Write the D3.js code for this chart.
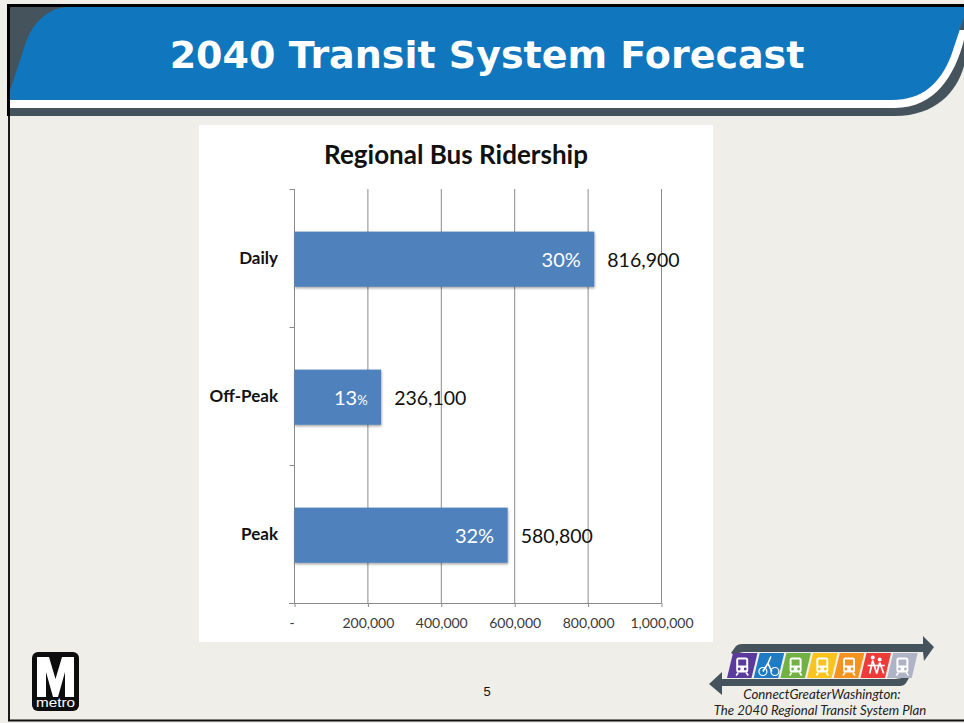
<!DOCTYPE html>
<html>
<head>
<meta charset="utf-8">
<title>2040 Transit System Forecast</title>
<script src="https://cdn.jsdelivr.net/npm/d3@7/dist/d3.min.js"></script>
<style>
    html, body { margin: 0; padding: 0; background: #efeee9; }
    svg { display: block; }
    .axis text { font-family: Lato, "Open Sans", sans-serif; }
</style>
</head>
<body>
<svg id="slide" width="964" height="723"></svg>
<script>
// Chart data
const categories = ['Daily', 'Off-Peak', 'Peak'];
const ridership = [816900, 236100, 580800];
const shares = ['30', '13', '32'];
const xTicks = [0, 200000, 400000, 600000, 800000, 1000000];
const tileColors = ['#5a3a9c', '#1f7cc4', '#72b244', '#fac41c', '#f6931f', '#ec3b38', '#aeb4c6'];

const svg = d3.select('#slide');
const bodyFont = 'Lato, "Open Sans", sans-serif';

// Slide background and header band
svg.append('rect').attr('width', 964).attr('height', 723).attr('fill', '#efeee9');
svg.append('path')
    .attr('d', 'M10,7H964V66C957,92 935,116 895,116H10Z')
    .attr('fill', '#45545c');
svg.append('path')
    .attr('d', 'M10,100H890L950,30H964V40C955,75 935,108 895,108H10Z')
    .attr('fill', '#ffffff');
svg.append('path')
    .attr('d', 'M10,91L25,45C32,22 50,7 68,7H964V17L951,56C940,84 922,100 892,100H10Z')
    .attr('fill', '#1077bf');
svg.append('text')
    .attr('x', 487).attr('y', 68)
    .attr('text-anchor', 'middle')
    .attr('font-family', '"DejaVu Sans", sans-serif')
    .attr('font-weight', 'bold')
    .attr('font-size', 38)
    .attr('fill', '#ffffff')
    .text('2040 Transit System Forecast');

// Slide frame
svg.append('rect').attr('x', 7).attr('y', 4).attr('width', 957).attr('height', 3).attr('fill', '#000');
svg.append('rect').attr('x', 7).attr('y', 4).attr('width', 3).attr('height', 112).attr('fill', '#000');
svg.append('rect').attr('x', 8).attr('y', 116).attr('width', 2).attr('height', 605).attr('fill', '#1a1a1a');
svg.append('rect').attr('x', 8).attr('y', 719.5).attr('width', 956).attr('height', 2).attr('fill', '#111');

// Chart panel
svg.append('rect').attr('x', 199).attr('y', 125).attr('width', 514).attr('height', 517).attr('fill', '#ffffff');
svg.append('text')
    .attr('x', 456).attr('y', 164)
    .attr('text-anchor', 'middle')
    .attr('font-family', bodyFont)
    .attr('font-weight', 'bold')
    .attr('font-size', 26)
    .attr('fill', '#111')
    .text('Regional Bus Ridership');

const margin = { left: 294.5, right: 661.5, top: 189, bottom: 603 };
const x = d3.scaleLinear().domain([0, 1000000]).range([margin.left, margin.right]);
// bars sit a touch below the centre of their tick interval
const y = d3.scaleBand().domain(categories).range([margin.top + 1.2, margin.bottom + 1.2]).paddingInner(0.6).paddingOuter(0.3);

// Gridlines
svg.append('g').selectAll('line')
    .data(xTicks.slice(1))
    .enter()
    .append('line')
    .attr('x1', d => x(d)).attr('x2', d => x(d))
    .attr('y1', margin.top).attr('y2', margin.bottom)
    .attr('stroke', '#8a8a8a').attr('stroke-width', 1);

// X axis
const xAxis = d3.axisBottom(x)
    .tickValues(xTicks)
    .tickSize(4)
    .tickPadding(8)
    .tickFormat(d => d === 0 ? '-' : d3.format(',')(d));
const xg = svg.append('g')
    .attr('class', 'axis')
    .attr('transform', `translate(0,${margin.bottom})`)
    .call(xAxis);
xg.select('.domain').attr('stroke', '#8a8a8a').attr('d', `M289,0.5H${margin.right}`);
xg.selectAll('.tick line').attr('stroke', '#8a8a8a');
xg.selectAll('.tick text')
    .attr('font-size', 14)
    .attr('fill', '#3a3a3a')
    .attr('dy', '0.95em');
xg.selectAll('.tick text').filter(d => d === 0).attr('dx', -3);

// Y axis: ticks sit between the categories
const yEdges = [0, 1, 2, 3].map(i => margin.top + i * y.step());
svg.append('line')
    .attr('x1', margin.left).attr('x2', margin.left)
    .attr('y1', margin.top).attr('y2', margin.bottom)
    .attr('stroke', '#8a8a8a');
svg.append('g').selectAll('line')
    .data(yEdges.slice(0, 3))
    .enter()
    .append('line')
    .attr('x1', margin.left - 5).attr('x2', margin.left)
    .attr('y1', d => d + 0.5).attr('y2', d => d + 0.5)
    .attr('stroke', '#8a8a8a');

svg.append('g').selectAll('text')
    .data(categories)
    .enter()
    .append('text')
    .attr('x', 278)
    .attr('y', d => y(d) + y.bandwidth() / 2 + 5)
    .attr('text-anchor', 'end')
    .attr('font-family', bodyFont)
    .attr('font-weight', 'bold')
    .attr('font-size', 17)
    .attr('fill', '#111')
    .text(d => d);

// Bars
const defs = svg.append('defs');
const shadow = defs.append('filter').attr('id', 'barShadow').attr('x', '-5%').attr('y', '-5%').attr('width', '110%').attr('height', '115%');
shadow.append('feDropShadow')
    .attr('dx', 0.5).attr('dy', 1.5).attr('stdDeviation', 1.2)
    .attr('flood-color', '#000').attr('flood-opacity', 0.35);

svg.append('g').selectAll('rect')
    .data(categories)
    .enter()
    .append('rect')
    .attr('x', x(0))
    .attr('y', d => y(d))
    .attr('width', (d, i) => x(ridership[i]) - x(0))
    .attr('height', y.bandwidth())
    .attr('fill', '#4f81bd')
    .attr('filter', 'url(#barShadow)');

// Share labels inside the bars
const shareLabels = svg.append('g').selectAll('text')
    .data(categories)
    .enter()
    .append('text')
    .attr('x', (d, i) => x(ridership[i]) - 13.5)
    .attr('y', d => y(d) + y.bandwidth() / 2 + 8)
    .attr('text-anchor', 'end')
    .attr('font-family', bodyFont)
    .attr('font-size', 20)
    .attr('fill', '#ffffff');
shareLabels.append('tspan').text((d, i) => shares[i]);
shareLabels.append('tspan')
    .attr('font-size', (d, i) => i === 1 ? 13 : 20)
    .text('%');

// Value labels outside the bars
svg.append('g').selectAll('text')
    .data(categories)
    .enter()
    .append('text')
    .attr('x', (d, i) => x(ridership[i]) + 13)
    .attr('y', d => y(d) + y.bandwidth() / 2 + 8)
    .attr('font-family', bodyFont)
    .attr('font-size', 19.5)
    .attr('fill', '#111')
    .text((d, i) => d3.format(',')(ridership[i]));

// Page number
svg.append('text')
    .attr('x', 487).attr('y', 696)
    .attr('text-anchor', 'middle')
    .attr('font-family', '"Liberation Sans", sans-serif')
    .attr('font-size', 13)
    .attr('fill', '#111')
    .text('5');

// Metro logo
const metro = svg.append('g');
metro.append('rect').attr('x', 32).attr('y', 652).attr('width', 47).attr('height', 59).attr('rx', 6).attr('fill', '#0d0d0d');
metro.append('path')
    .attr('d', 'M37,697V657H49L55.5,679L62,657H74V697H65V672L58,697H53L46,672V697Z')
    .attr('fill', '#ffffff');
metro.append('text')
    .attr('x', 55.5).attr('y', 707)
    .attr('text-anchor', 'middle')
    .attr('font-family', '"Liberation Sans", sans-serif')
    .attr('font-size', 13)
    .attr('textLength', 39)
    .attr('lengthAdjust', 'spacingAndGlyphs')
    .attr('fill', '#ffffff')
    .text('metro');

// Plan logo: two arrows with the row of mode tiles between them
const plan = svg.append('g');
plan.append('path')
    .attr('d', 'M731,653L736,646Q738,644 742,644H923V636L934,647L924,661L923,652H745Q738,652 736,656Z')
    .attr('fill', '#45545c');
plan.append('path')
    .attr('d', 'M909,678L906,683Q904,686 900,686H722V695L709,684L722,672V679H895L902,678Z')
    .attr('fill', '#45545c');

const tileWidth = 24.5;
const tileSlant = 6;
plan.append('g').selectAll('path')
    .data(tileColors)
    .enter()
    .append('path')
    .attr('d', (d, i) => {
        const left = 727 + i * 26.7;
        return d3.line()([
            [left, 678], [left + tileSlant, 653],
            [left + tileSlant + tileWidth, 653], [left + tileWidth, 678]
        ]) + 'Z';
    })
    .attr('fill', d => d);

// Small white pictograms on the tiles
plan.append('g').selectAll('g')
    .data(tileColors)
    .enter()
    .append('g')
    .attr('transform', (d, i) => `translate(${742.2 + i * 26.7},665.5)`)
    .each(function(d, i) {
        const icon = d3.select(this);
        if (i === 1) {
            icon.append('circle').attr('cx', -6).attr('cy', 6).attr('r', 4).attr('fill', 'none').attr('stroke', '#fff').attr('stroke-width', 1.2);
            icon.append('circle').attr('cx', 6).attr('cy', 6).attr('r', 4).attr('fill', 'none').attr('stroke', '#fff').attr('stroke-width', 1.2);
            icon.append('path').attr('d', 'M-6,6L-1,-2L3,6M-1,-2L2,-9').attr('fill', 'none').attr('stroke', '#fff').attr('stroke-width', 1.6);
        } else if (i === 5) {
            icon.append('circle').attr('cx', -3).attr('cy', -8).attr('r', 2).attr('fill', '#fff');
            icon.append('circle').attr('cx', 4).attr('cy', -6).attr('r', 2).attr('fill', '#fff');
            icon.append('path').attr('d', 'M-3,-5L-6,8M-3,-5L1,8M4,-3L1,8M4,-3L8,8M-8,0L9,0').attr('fill', 'none').attr('stroke', '#fff').attr('stroke-width', 1.7);
        } else {
            icon.append('rect').attr('x', -6).attr('y', -8).attr('width', 12).attr('height', 15).attr('rx', 2.5).attr('fill', '#fff');
            icon.append('rect').attr('x', -4).attr('y', -6).attr('width', 8).attr('height', 6).attr('fill', d);
            icon.append('circle').attr('cx', -3).attr('cy', 3.5).attr('r', 1.4).attr('fill', d);
            icon.append('circle').attr('cx', 3).attr('cy', 3.5).attr('r', 1.4).attr('fill', d);
            icon.append('path').attr('d', 'M-4,7L-6,10M4,7L6,10').attr('stroke', '#fff').attr('stroke-width', 1.6);
        }
    });

plan.append('text')
    .attr('x', 822).attr('y', 699)
    .attr('text-anchor', 'middle')
    .attr('font-family', bodyFont)
    .attr('font-style', 'italic')
    .attr('font-size', 13.3)
    .attr('fill', '#222')
    .text('ConnectGreaterWashington:');
plan.append('text')
    .attr('x', 820).attr('y', 715)
    .attr('text-anchor', 'middle')
    .attr('font-family', bodyFont)
    .attr('font-style', 'italic')
    .attr('font-size', 13.2)
    .attr('fill', '#222')
    .text('The 2040 Regional Transit System Plan');
</script>
</body>
</html>
